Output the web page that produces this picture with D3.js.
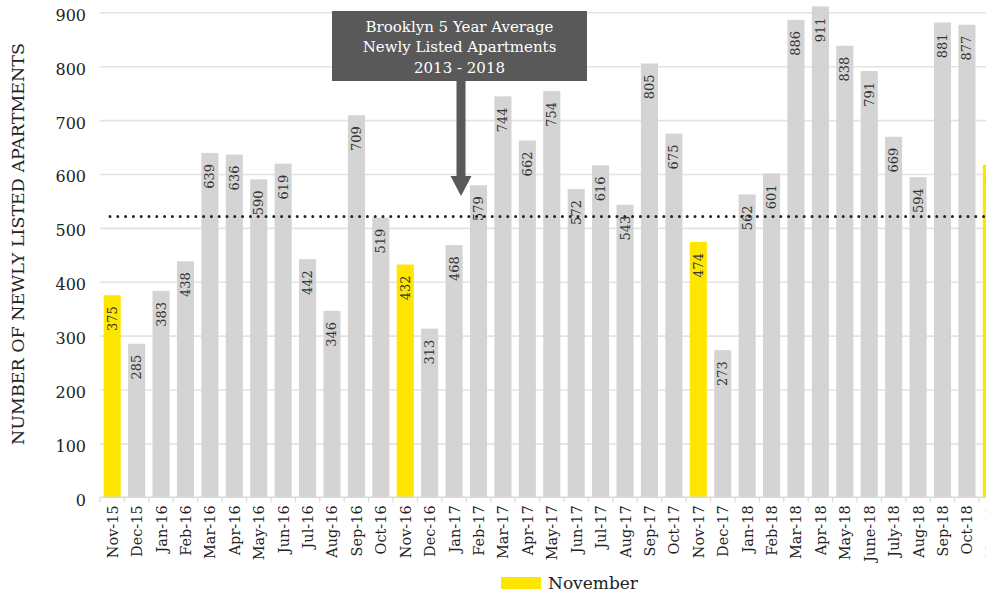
<!DOCTYPE html>
<html>
<head>
<meta charset="utf-8">
<script src="https://cdn.jsdelivr.net/npm/d3@7"></script>
<style>
  html, body { margin: 0; padding: 0; background: #fff; }
  svg { display: block; }
  text { font-family: "DejaVu Serif", "Liberation Serif", serif; }
</style>
</head>
<body>
<svg id="chart" width="986" height="593"></svg>
<script>
const categories = ["Nov-15","Dec-15","Jan-16","Feb-16","Mar-16","Apr-16","May-16","Jun-16","Jul-16","Aug-16","Sep-16","Oct-16",
  "Nov-16","Dec-16","Jan-17","Feb-17","Mar-17","Apr-17","May-17","Jun-17","Jul-17","Aug-17","Sep-17","Oct-17",
  "Nov-17","Dec-17","Jan-18","Feb-18","Mar-18","Apr-18","May-18","June-18","July-18","Aug-18","Sep-18","Oct-18","Nov-18"];
const values = [375,285,383,438,639,636,590,619,442,346,709,519,
  432,313,468,579,744,662,754,572,616,543,805,675,
  474,273,562,601,886,911,838,791,669,594,881,877,617];
const novemberCats = ["Nov-15","Nov-16","Nov-17","Nov-18"];
const yTicks = [0,100,200,300,400,500,600,700,800,900];
const averageValue = 521;
const annotationLines = ["Brooklyn 5 Year Average","Newly Listed Apartments","2013 - 2018"];
const yTitle = "NUMBER OF NEWLY LISTED APARTMENTS";
const legendLabel = "November";

const svg = d3.select("#chart");
const W = 986, H = 593;
const plotLeft = 100, plotTop = 12.3, plotBottom = 497.3;
const step = 24.42;

const x = d3.scaleBand().domain(categories)
  .range([plotLeft, plotLeft + step * categories.length])
  .paddingInner(0.3).paddingOuter(0.15);
const y = d3.scaleLinear().domain([0, 900]).range([plotBottom, plotTop]);

const GRAY = "#d5d4d5", YELLOW = "#ffe600";

// gridlines + y labels
const yAxis = d3.axisLeft(y).tickValues(yTicks).tickSize(-(W - plotLeft)).tickPadding(14);
const gy = svg.append("g").attr("transform", `translate(${plotLeft},0)`).call(yAxis);
gy.select(".domain").remove();
gy.selectAll(".tick line").attr("stroke", "#e3e3e3").attr("stroke-width", 1.6);
gy.selectAll(".tick text").attr("font-size", 16).attr("fill", "#222")
  .attr("font-family", "DejaVu Serif").attr("dy", "0.5em");
gy.selectAll(".tick").filter(d => d === 0).select("line").remove();

// bars
svg.append("g").selectAll("rect").data(categories).join("rect")
  .attr("x", d => x(d))
  .attr("y", (d, i) => y(values[i]))
  .attr("width", x.bandwidth())
  .attr("height", (d, i) => y(0) - y(values[i]))
  .attr("fill", d => novemberCats.includes(d) ? YELLOW : GRAY);

// x axis line and boundary ticks
svg.append("line").attr("x1", plotLeft).attr("x2", W).attr("y1", plotBottom).attr("y2", plotBottom)
  .attr("stroke", "#d9d9d9").attr("stroke-width", 1.5);
svg.append("g").selectAll("line").data(categories).join("line")
  .attr("x1", d => x(d) - x.step() * 0.15).attr("x2", d => x(d) - x.step() * 0.15)
  .attr("y1", plotBottom).attr("y2", plotBottom + 5)
  .attr("stroke", "#d9d9d9").attr("stroke-width", 1.2);

// x labels
svg.append("g").selectAll("text").data(categories).join("text")
  .attr("transform", d => `translate(${x(d) + x.bandwidth() / 2 + 5.5},${plotBottom + 8}) rotate(-90)`)
  .attr("text-anchor", "end")
  .attr("font-size", 14.5).attr("fill", "#222")
  .text(d => d);

// bar value labels
svg.append("g").selectAll("text").data(categories).join("text")
  .attr("transform", (d, i) => `translate(${x(d) + x.bandwidth() / 2 + 4.5},${y(values[i]) + 11}) rotate(-90)`)
  .attr("text-anchor", "end")
  .attr("font-size", 13).attr("fill", "#333")
  .text((d, i) => values[i]);

// average dotted line
svg.append("line")
  .attr("x1", 110).attr("x2", W)
  .attr("y1", y(averageValue)).attr("y2", y(averageValue))
  .attr("stroke", "#222").attr("stroke-width", 3)
  .attr("stroke-linecap", "round").attr("stroke-dasharray", "0 7.8");

// annotation box
const ann = svg.append("g");
ann.append("rect").attr("x", 332).attr("y", 11).attr("width", 255).attr("height", 70).attr("fill", "#595959");
annotationLines.forEach((t, i) => {
  ann.append("text").attr("x", 459.5).attr("y", 31.5 + i * 20.7)
    .attr("text-anchor", "middle").attr("font-size", 15).attr("fill", "#fff").text(t);
});
// arrow
ann.append("path")
  .attr("d", "M456.5,81 L465.5,81 L465.5,176 L471.5,176 L461,196 L450.5,176 L456.5,176 Z")
  .attr("fill", "#595959");

// y title
svg.append("text")
  .attr("transform", `translate(24,244) rotate(-90)`)
  .attr("text-anchor", "middle")
  .attr("font-size", 16).attr("fill", "#222")
  .attr("textLength", 402).attr("lengthAdjust", "spacingAndGlyphs")
  .text(yTitle);

// legend
svg.append("rect").attr("x", 501).attr("y", 577).attr("width", 40).attr("height", 12).attr("fill", YELLOW);
svg.append("text").attr("x", 548).attr("y", 589).attr("font-size", 17).attr("fill", "#222").text(legendLabel);
</script>
</body>
</html>
